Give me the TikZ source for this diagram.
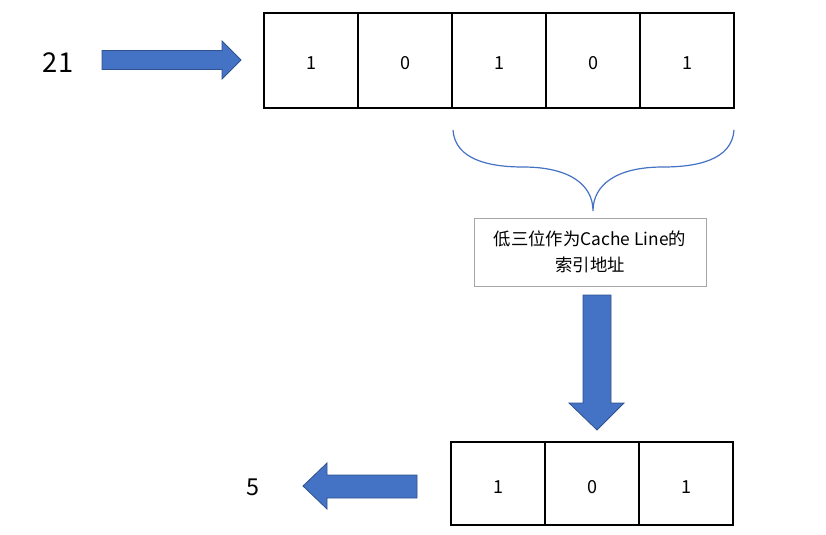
\documentclass[tikz,border=0pt]{standalone}
\usepackage{fontspec}
\setmainfont{Noto Sans CJK SC}
\usetikzlibrary{positioning}
\definecolor{arrowblue}{HTML}{4472C4}
\definecolor{arrowline}{HTML}{2F528F}

\tikzset{
  bitcell/.style={draw,line width=1.1pt,inner sep=0pt,outer sep=0pt,
    minimum width=70.5pt,text height=14.25pt,text depth=0pt,
    font=\fontsize{13.5}{16}\selectfont},
  bigarrow/.style={fill=arrowblue,draw=arrowline,line width=0.6pt,line join=miter},
  numlabel/.style={inner sep=0pt},
}

\begin{document}
\begin{tikzpicture}[x=0.75pt,y=-0.75pt]
\useasboundingbox (0,0) rectangle (826,535);
% address bits
\node[bitcell,minimum height=71.25pt] (t1) at (311,60.5) {1};
\node[bitcell,minimum height=71.25pt,right=0pt of t1] (t2) {0};
\node[bitcell,minimum height=71.25pt,right=0pt of t2] (t3) {1};
\node[bitcell,minimum height=71.25pt,right=0pt of t3] (t4) {0};
\node[bitcell,minimum height=71.25pt,right=0pt of t4] (t5) {1};
% low three bits
\node[bitcell,minimum height=62.25pt] (b1) at (498,483.5) {1};
\node[bitcell,minimum height=62.25pt,right=0pt of b1] (b2) {0};
\node[bitcell,minimum height=62.25pt,right=0pt of b2] (b3) {1};
% numbers
\node[numlabel,font=\fontsize{20.5}{24}\selectfont] (n21) at (58,63) {21};
\node[numlabel,font=\fontsize{17.5}{21}\selectfont] (n5) at (253,487) {5};
% block arrows
\draw[bigarrow] (102,50.5) -- (222,50.5) -- (222,41) -- (241,60) -- (222,79)
  -- (222,69.5) -- (102,69.5) -- cycle;
\draw[bigarrow] (417,475) -- (327,475) -- (327,463) -- (303,486) -- (327,509)
  -- (327,498) -- (417,498) -- cycle;
\draw[bigarrow] (583,295) -- (611,295) -- (611,403) -- (624,403) -- (597,430)
  -- (569,403) -- (583,403) -- cycle;
% brace under the low bits
\coordinate (bl) at (453,130);
\coordinate (bm) at (593,211);
\coordinate (br) at (734,130);
\draw[arrowblue,line width=0.9pt] (bl) .. controls (455,160) and (490,167) .. (523,167)
  .. controls (570,167) and (593,185) .. (bm)
  .. controls (593,185) and (616,167) .. (663,167)
  .. controls (697,167) and (732,160) .. (br);
% note
\node[draw=gray!70,line width=0.7pt,minimum width=174pt,minimum height=51pt,
  align=center,font=\fontsize{13}{20}\selectfont] (note) at (590,252)
  {低三位作为Cache Line的\\索引地址};
\end{tikzpicture}
\end{document}
